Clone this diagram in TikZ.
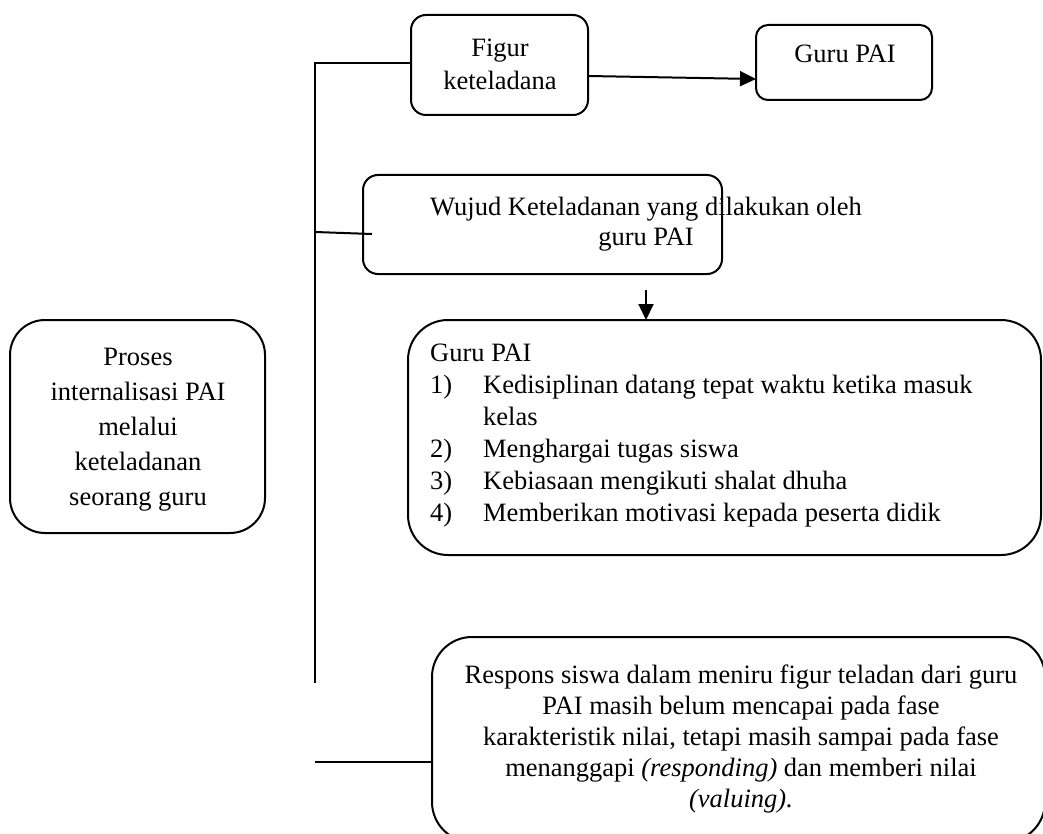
\documentclass[tikz,border=0pt]{standalone}
\usepackage{fontspec}
\setmainfont{Liberation Serif}
\usetikzlibrary{arrows.meta,calc}
\begin{document}
\begin{tikzpicture}[x=1pt,y=-1pt,
  box/.style={draw,line width=2pt,rectangle,inner sep=0pt,outer sep=0pt},
  txt/.style={inner sep=0pt,align=center},
  conn/.style={line width=2pt},
  arr/.style={conn,-{Triangle[length=16pt,width=15pt]}}]
\useasboundingbox (0,0) rectangle (1043,834);
\clip (0,0) rectangle (1043,834);
% boxes
\node[box,rounded corners=15pt,minimum width=177pt,minimum height=100pt] (figur) at (499.5,65) {};
\node[box,rounded corners=12pt,minimum width=176pt,minimum height=75pt] (guru) at (844,62.5) {};
\node[box,rounded corners=15pt,minimum width=359pt,minimum height=99pt] (wujud) at (542.5,224.5) {};
\node[box,rounded corners=40pt,minimum width=633pt,minimum height=235pt] (list) at (724.5,437.5) {};
\node[box,rounded corners=35pt,minimum width=255pt,minimum height=213pt] (proses) at (137.5,426.5) {};
\node[box,rounded corners=40pt,minimum width=613pt,minimum height=205pt] (respons) at (738.5,739.5) {};
% texts (anchor = baseline of the last line)
\node[txt,anchor=base,font=\fontsize{26.5}{33}\selectfont] (tfigur) at (500,90) {Figur\\keteladana};
\node[txt,anchor=base,font=\fontsize{26.5}{31}\selectfont] (tguru) at (845,63) {Guru PAI};
\node[txt,anchor=base,font=\fontsize{26.5}{29}\selectfont] (twujud) at (646,245) {Wujud Keteladanan yang dilakukan oleh\\guru PAI};
\node[txt,anchor=base,font=\fontsize{26.5}{35}\selectfont] (tproses) at (138,505) {Proses\\internalisasi PAI\\melalui\\keteladanan\\seorang guru};
\node[txt,anchor=base west,align=left] (tlist) at (430,361) {\fontsize{26.5}{32}\selectfont
\begin{tabular}[t]{@{}p{53pt}@{}l@{}}
\multicolumn{2}{@{}l}{Guru PAI}\\
1) & Kedisiplinan datang tepat waktu ketika masuk\\
   & kelas\\
2) & Menghargai tugas siswa\\
3) & Kebiasaan mengikuti shalat dhuha\\
4) & Memberikan motivasi kepada peserta didik
\end{tabular}};
\node[txt,anchor=base,font=\fontsize{26.5}{31}\selectfont] (trespons) at (741,807) {Respons siswa dalam meniru figur teladan dari guru\\PAI masih belum mencapai pada fase\\karakteristik nilai, tetapi masih sampai pada fase\\menanggapi \textit{(responding)} dan memberi nilai\\\textit{(valuing).}};
% connectors
\coordinate (vtop) at (315,63);
\coordinate (vbot) at (315,683);
\coordinate (wj) at (315,232);
\coordinate (rb) at (315,762);
\coordinate (atop) at (646,290);
\draw[conn] (vbot) -- (vtop) -- (vtop -| figur.west);
\draw[conn] (wj) -- ($(wj -| wujud.west)+(9,2)$);
\draw[conn] (rb) -- (rb -| respons.west);
\draw[arr] ($(figur.east)+(0,11)$) -- ($(guru.west)+(0,16.5)$);
\draw[arr] (atop) -- (atop |- list.north);
\end{tikzpicture}
\end{document}
